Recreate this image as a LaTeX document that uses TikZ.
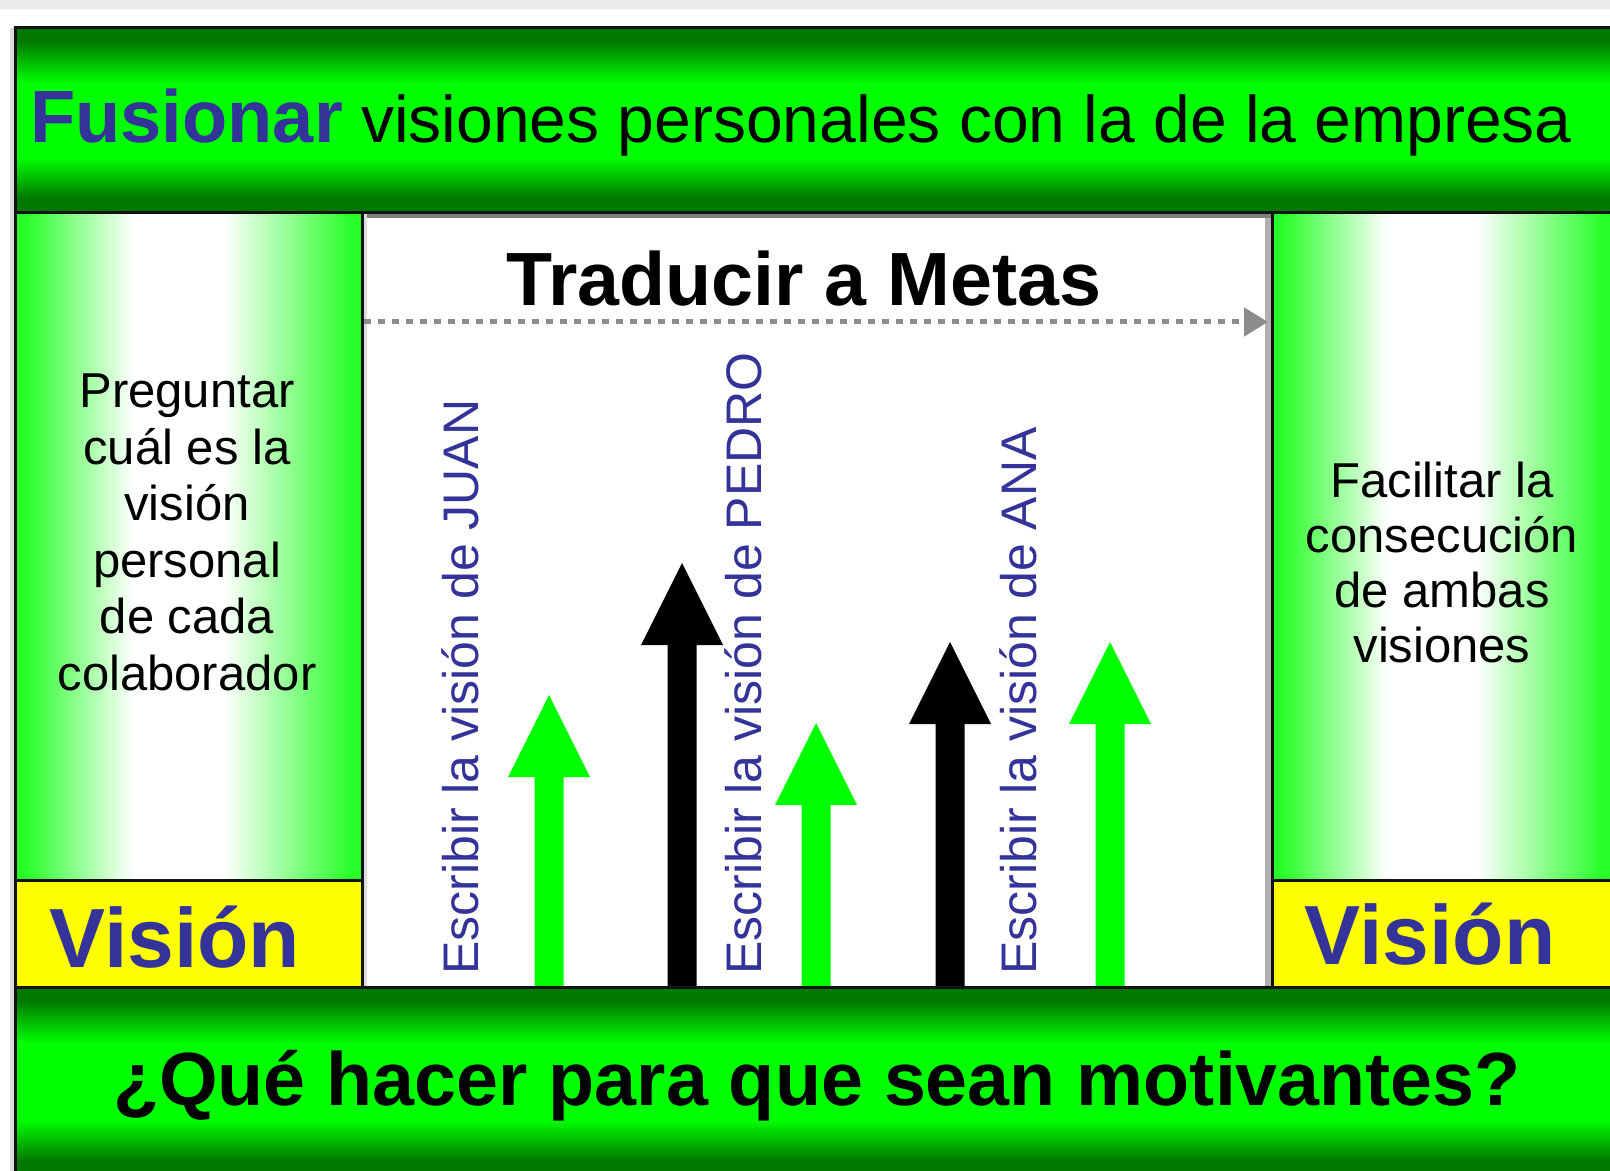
\documentclass[tikz,border=0pt]{standalone}
\usepackage{fontspec}
\setmainfont{Liberation Sans}
\usetikzlibrary{arrows.meta}
\definecolor{dkgreen}{RGB}{0,120,0}
\definecolor{brgreen}{RGB}{0,255,0}
\definecolor{sidegreen}{RGB}{40,255,40}
\definecolor{visyellow}{RGB}{255,255,0}
\definecolor{vblue}{RGB}{51,51,153}
\definecolor{edgeblack}{RGB}{15,20,15}
\definecolor{topgray}{RGB}{235,235,235}
\definecolor{dotgray}{RGB}{140,140,140}
\definecolor{shadowlight}{RGB}{220,220,220}
\definecolor{shadowmid}{RGB}{128,128,128}
\pgfdeclareverticalshading{bandshade}{100bp}{color(0bp)=(dkgreen); color(25bp)=(dkgreen); color(29bp)=(dkgreen); color(40bp)=(brgreen); color(60bp)=(brgreen); color(71.5bp)=(dkgreen); color(75bp)=(dkgreen); color(100bp)=(dkgreen)}
\pgfdeclarehorizontalshading{sideshade}{100bp}{color(0bp)=(sidegreen); color(25bp)=(sidegreen); color(26.5bp)=(sidegreen); color(42bp)=(white); color(55bp)=(white); color(73.5bp)=(sidegreen); color(75bp)=(sidegreen); color(100bp)=(sidegreen)}
\newcommand\bigup[3]{%
  \fill[#3] ({#1-14.5},987) -- ({#1-14.5},{#2+82}) -- ({#1-41},{#2+82}) -- (#1,#2)
    -- ({#1+41},{#2+82}) -- ({#1+14.5},{#2+82}) -- ({#1+14.5},987) -- cycle;}
\begin{document}
\begin{tikzpicture}[x=0.5pt,y=-0.5pt,
  frameline/.style={draw=edgeblack, line width=1.5pt},
  bandbox/.style={frameline, shade, shading=bandshade},
  sidebox/.style={frameline, shade, shading=sideshade},
  visbox/.style={frameline, fill=visyellow},
  headtext/.style={font=\bfseries\fontsize{37.7}{44}\selectfont, inner sep=0, anchor=base},
  vistext/.style={font=\bfseries\fontsize{42}{48}\selectfont, text=vblue, inner sep=0, anchor=base},
  sidetext/.style={font=\fontsize{24.5}{28}\selectfont, inner sep=0, anchor=base},
  vertext/.style={font=\fontsize{25}{30}\selectfont, text=vblue, rotate=90, anchor=base west, inner sep=0},
  dotline/.style={draw=dotgray, line width=2.5pt, dash pattern=on 3.5pt off 3.5pt,
    -{Triangle[length=12pt,width=14pt]}}]
\useasboundingbox (0,0) rectangle (1610,1171);
\clip (0,0) rectangle (1610,1171);
\fill[white] (0,0) rectangle (1610,1171);
\fill[topgray] (0,0) rectangle (1610,9);
% left shadow of frame
\fill[shadowlight] (10,28) rectangle (15,1171);
% center panel
\fill[white] (362,213) rectangle (1272,987);
\fill[shadowmid] (362,213) rectangle (1272,218);
\fill[shadowlight] (362,213) rectangle (367,987);
\fill[shadowlight!80!black] (1265,218) rectangle (1272,987);
\draw[frameline] (362,213) rectangle (1272,987);
% arrows
\bigup{549}{695}{brgreen}
\bigup{682}{563}{black}
\bigup{816}{723}{brgreen}
\bigup{950}{642}{black}
\bigup{1110}{642}{brgreen}
% vertical texts
\node[vertext] (juan) at (478,975) {Escribir la visión de JUAN};
\node[vertext] (pedro) at (761,975) {Escribir la visión de PEDRO};
\node[vertext] (ana) at (1036,975) {Escribir la visión de ANA};
% title and dotted arrow
\node[headtext] (traducir) at (804,306) {Traducir a Metas};
\coordinate (dstart) at (364,322);
\coordinate (dend) at (1268,322);
\draw[dotline] (dstart) -- (dend);
% side panels
\path[sidebox] (15,213) rectangle (362,880);
\path[sidebox] (1272,213) rectangle (1613,880);
\draw[visbox] (15,880) rectangle (362,987);
\draw[visbox] (1272,880) rectangle (1613,987);
\foreach \t [count=\i from 0] in {Preguntar, cuál es la, visión, personal, de cada, colaborador}
  \node[sidetext] (lt\i) at (187,{408+56.4*\i}) {\t};
\foreach \t [count=\i from 0] in {Facilitar la, consecución, de ambas, visiones}
  \node[sidetext] (rt\i) at (1442,{497+55.3*\i}) {\t};
\node[vistext] (visl) at (175,967) {Visión};
\node[vistext] (visr) at (1430,964) {Visión};
% top and bottom bands
\path[bandbox] (15,28) rectangle (1613,213);
\node[inner sep=0, anchor=base west] (toptext) at (30,143)
  {\fontsize{33}{44}\selectfont{\color{vblue}\fontsize{37}{44}\selectfont\bfseries Fusionar} visiones personales con la de la empresa};
\path[bandbox] (15,987) rectangle (1613,1176);
\node[headtext] (bottomtext) at (817,1105) {¿Qué hacer para que sean motivantes?};
\end{tikzpicture}
\end{document}
